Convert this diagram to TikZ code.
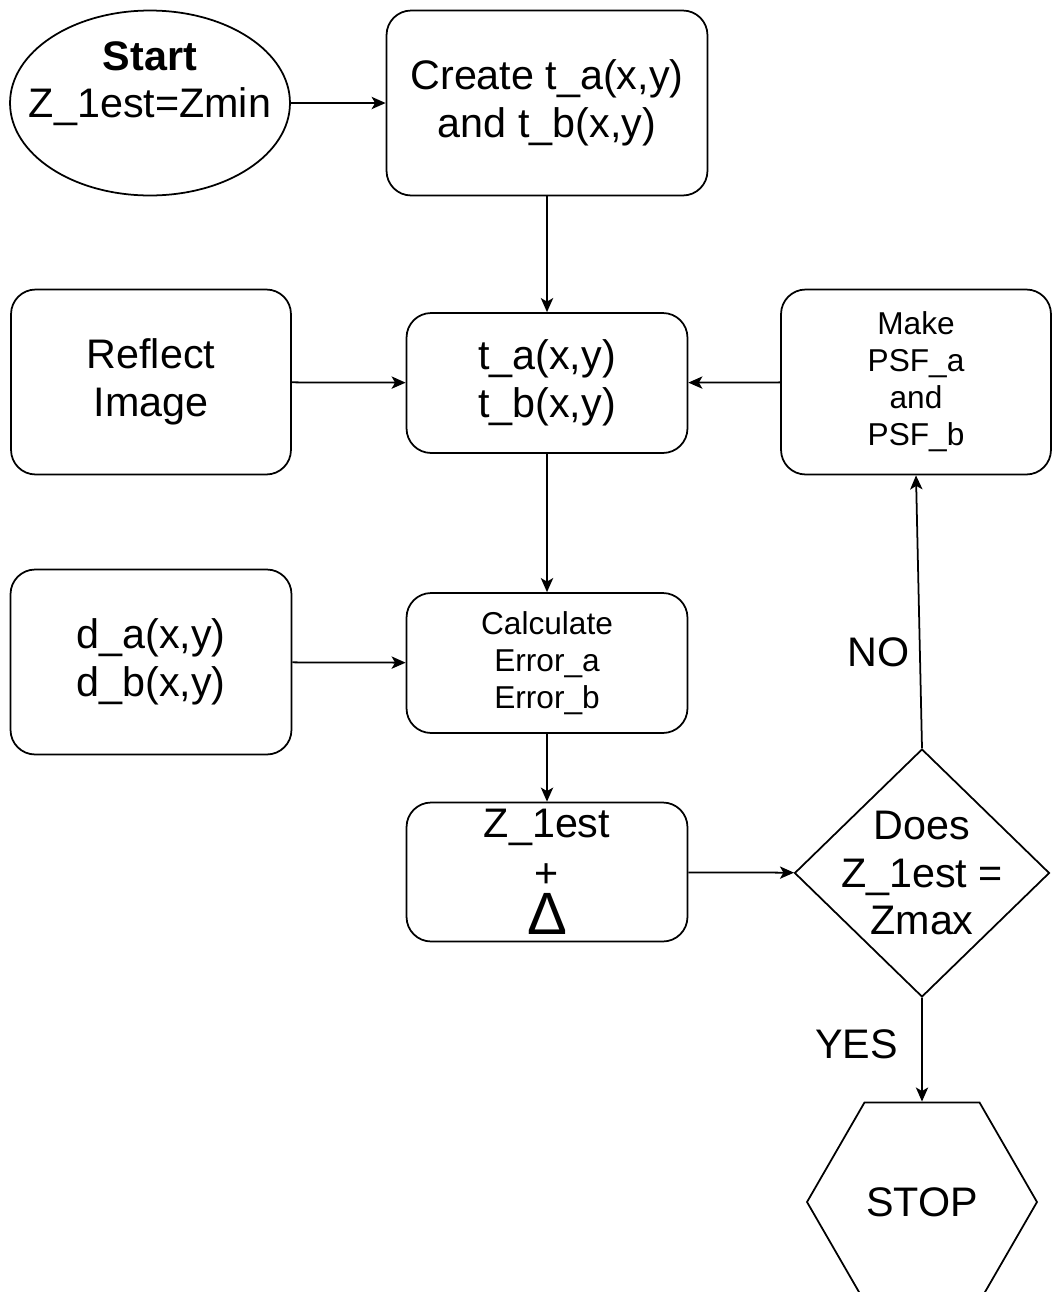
\documentclass[tikz,border=0pt]{standalone}
\usepackage{fontspec}
\setmainfont{Liberation Sans}
\usetikzlibrary{shapes, arrows.meta, positioning}

\tikzset{
  box/.style={draw, rounded corners=14pt, line width=1pt, align=center, inner sep=0pt},
  bigtxt/.style={font=\fontsize{23.5}{27}\selectfont},
  smalltxt/.style={font=\fontsize{18}{21}\selectfont},
  flow/.style={-{Stealth[length=8pt, width=7pt, inset=2pt]}, line width=1pt},
}

\begin{document}
\begin{tikzpicture}[x=0.02cm, y=-0.02cm]
\useasboundingbox (0,0) rectangle (1053,1292);

% start and first step
\node[draw, ellipse, line width=1pt, minimum width=5.6cm, minimum height=3.7cm,
  label={[bigtxt, align=center, yshift=11pt]center:{\textbf{Start}\\Z\_1est=Zmin}}] (start) at (150,103) {};
\node[box, bigtxt, minimum width=6.42cm, minimum height=3.7cm] (create) at (547,103) {Create t\_a(x,y)\\and t\_b(x,y)};

% middle row
\node[box, bigtxt, minimum width=5.6cm, minimum height=3.7cm] (reflect) at (151,382) {Reflect\\Image};
\node[box, bigtxt, minimum width=5.62cm, minimum height=2.8cm] (tab) at (547,383) {t\_a(x,y)\\t\_b(x,y)};
\node[box, smalltxt, minimum width=5.4cm, minimum height=3.7cm] (psf) at (916,382) {Make\\PSF\_a\\and\\PSF\_b};

% error row
\node[box, bigtxt, minimum width=5.62cm, minimum height=3.7cm] (dab) at (151,662) {d\_a(x,y)\\d\_b(x,y)};
\node[box, smalltxt, minimum width=5.62cm, minimum height=2.8cm] (err) at (547,663) {Calculate\\Error\_a\\Error\_b};

% increment, test and stop
\node[box, bigtxt, minimum width=5.62cm, minimum height=2.78cm] (zinc) at (547,872) {Z\_1est\\[1pt]+\\\fontsize{34}{28}\selectfont Δ};
\node[draw, diamond, line width=1pt, inner sep=0pt, minimum width=5.1cm, minimum height=4.96cm,
  label={[bigtxt, align=center]center:{Does\\Z\_1est =\\Zmax}}] (check) at (922,873) {};
\node[draw, regular polygon, regular polygon sides=6, line width=1pt,
  minimum size=4.6cm, inner sep=0pt, bigtxt] (stop) at (922,1202) {STOP};

\draw[flow] (start) -- (create);
\draw[flow] (create) -- (tab);
\draw[flow] (reflect) -- (tab);
\draw[flow] (psf) -- (tab);
\draw[flow] (tab) -- (err);
\draw[flow] (dab) -- (err);
\draw[flow] (err) -- (zinc);
\draw[flow] (zinc) -- (check);
\draw[flow] (check.north) -- node[bigtxt, left=2pt, pos=0.35] {NO} (psf.south);
\draw[flow] (check.south) -- node[bigtxt, left=10pt, pos=0.45] {YES} (stop.north);

\end{tikzpicture}
\end{document}
